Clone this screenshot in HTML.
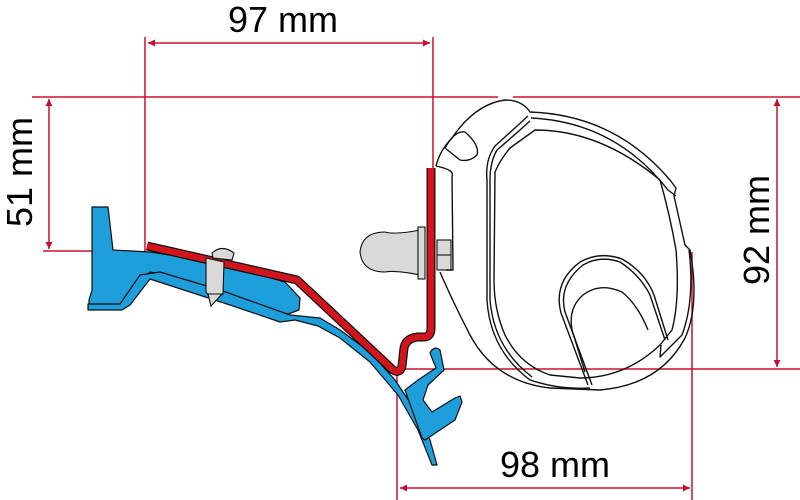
<!DOCTYPE html>
<html><head><meta charset="utf-8"><style>
html,body{margin:0;padding:0;background:#fff;width:800px;height:500px;overflow:hidden}
svg{display:block}
text{font-family:"Liberation Sans",Arial,sans-serif;font-size:36px;fill:#000}
</style></head><body>
<svg width="800" height="500" viewBox="0 0 800 500" xmlns="http://www.w3.org/2000/svg">
<defs>
<marker id="a" viewBox="0 0 10 10" refX="10" refY="5" markerWidth="16" markerHeight="7" markerUnits="userSpaceOnUse" orient="auto-start-reverse"><path d="M0,0 L10,5 L0,10 Z" fill="#c8102e"/></marker>
</defs>
<g stroke="#c8102e" stroke-width="1.5" fill="none">
<line x1="32" y1="97" x2="498" y2="97"/>
<line x1="513" y1="97" x2="800" y2="97"/>
<line x1="145" y1="37" x2="145" y2="252"/>
<line x1="433" y1="37" x2="433" y2="168"/>
<line x1="43" y1="251" x2="95" y2="251"/>
<line x1="395" y1="369" x2="800" y2="369"/>
<line x1="397" y1="369" x2="397" y2="500"/>
<line x1="692" y1="252" x2="692" y2="500"/>
<line x1="148" y1="43" x2="430" y2="43" marker-start="url(#a)" marker-end="url(#a)"/>
<line x1="49" y1="99" x2="49" y2="249" marker-start="url(#a)" marker-end="url(#a)"/>
<line x1="777" y1="99" x2="777" y2="367" marker-start="url(#a)" marker-end="url(#a)"/>
<line x1="400" y1="488" x2="690" y2="488" marker-start="url(#a)" marker-end="url(#a)"/>
</g>
<text x="283" y="32" text-anchor="middle">97 mm</text>
<text x="555" y="477" text-anchor="middle">98 mm</text>
<text transform="translate(32,172) rotate(-90)" text-anchor="middle">51 mm</text>
<text transform="translate(769,230) rotate(-90)" text-anchor="middle">92 mm</text>

<g fill="#1e9fdc" stroke="#111" stroke-width="1.2" stroke-linejoin="round">
<path d="M92,207 L108,207 L113,250 L150,252 L215,262 L285,282 L300,298 L299,310 L288,314 L230,298 L180,278 L150,272 L140,280 L122,305 L100,307 L89,307 L89,300 L92,290 Z"/>
<path d="M88,304 L120,304 L140,275 L160,272 L220,290 L290,315 L320,318 L340,330 L370,352 L395,380 L415,410 L430,440 L437,465 L432,465 L418,430 L398,395 L370,362 L340,338 L318,326 L295,320 L280,322 L230,305 L150,279 L130,305 L122,310 L88,310 Z"/>
<path d="M430,353 Q434,345 440,350 L444,370 L428,385 L423,400 L432,412 L455,398 L460,396 L462,402 L455,420 L425,440 L422,438 L405,390 L418,380 L436,368 Z"/>
</g>
<path d="M147,246 L297,280 L393,370 Q400,374 402,366 L404,348 Q406,338 418,337 L424,337 Q431,337 431,328 L431,168" fill="none" stroke="#111" stroke-width="9" stroke-linejoin="round"/>
<path d="M147,246 L297,280 L393,370 Q400,374 402,366 L404,348 Q406,338 418,337 L424,337 Q431,337 431,328 L431,168" fill="none" stroke="#d0161c" stroke-width="6.5" stroke-linejoin="round"/>
<g fill="#d9d9d9" stroke="#111" stroke-width="1.1">
<path d="M212,253 Q222,244 234,253 L232,260 L213,258 Z"/>
<path d="M206,258 L224,262 L223,294 L212,300 L206,292 Z"/>
<path d="M208,294 L222,294 L211,306 Z"/>
<path d="M420,230 Q395,235 385,232 Q362,232 360,252 Q362,272 385,272 Q395,270 420,275 Z"/>
<rect x="418" y="227" width="7" height="52"/>
<rect x="437" y="240" width="14" height="30"/>
<line x1="437" y1="255" x2="451" y2="255"/>
</g>
<g fill="none" stroke="#111" stroke-width="1.4" stroke-linejoin="round">
<path d="M436,166 Q440,150 452,138 Q475,104 505,100 Q522,100 530,112 Q615,115 670,180 L676,188 L674,196 L685,245 L690,250 Q700,305 685,338 Q660,385 600,390 L550,388 Q495,382 470,335 Q452,300 440,272"/>
<path d="M436,166 Q455,170 452,176 L453,270 L446,270"/>
<path d="M445,148 Q455,130 465,132 Q480,145 477,155 Q470,162 460,160 Z"/>
<path d="M528,116 Q515,128 495,146 Q485,160 487,180 L487,300 Q490,350 530,380 Q560,390 590,388"/>
<path d="M531,118 Q615,122 668,190 L676,196 M530,121 Q518,132 497,150 Q490,162 490,180 L490,300 Q494,348 532,377"/>
<path d="M495,172 Q500,160 510,148 L535,130 Q600,130 660,180 Q670,215 676,250 Q680,300 672,330 L660,345 Q625,378 580,378 L550,375 Q520,365 505,335 Q494,310 494,280 Z"/>
<path d="M689,250 Q695,300 682,335 L660,357 L661,345"/>
<path d="M592,385 L565,312 Q558,285 583,265 Q600,255 620,262 Q640,275 650,295 L665,340"/>
<path d="M588,385 L561,313 Q553,282 580,262 Q600,251 622,259 Q645,272 654,295 L668,340"/>
<path d="M585,372 L572,330 Q568,308 583,295 Q600,282 622,292 Q638,305 648,330"/>
</g>
</svg>
</body></html>
